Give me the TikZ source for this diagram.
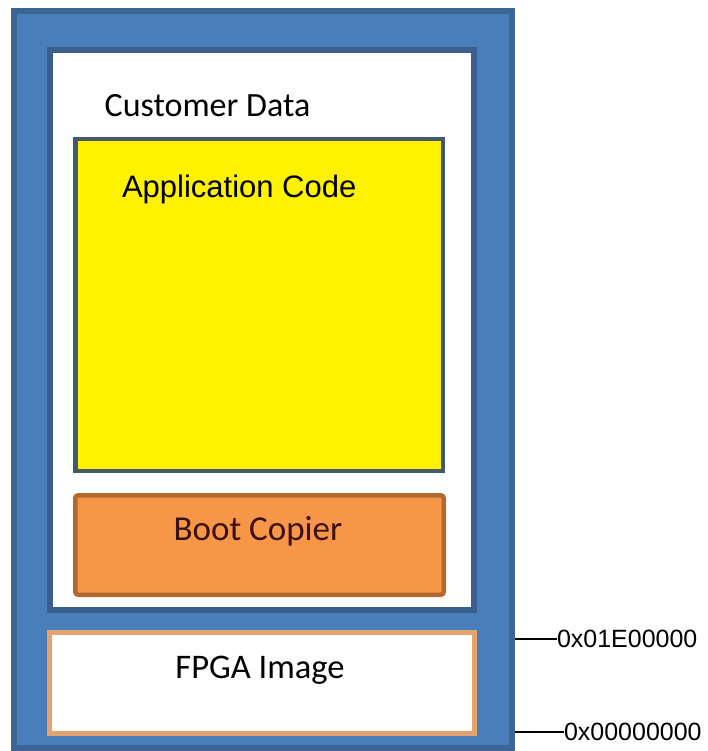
\documentclass[tikz,border=0pt]{standalone}
\usepackage{fontspec}
\newfontfamily\calibrifont{Carlito}
\newfontfamily\arialfont{Liberation Sans}

\definecolor{blueFill}{HTML}{4A7EBB}
\definecolor{blueEdge}{HTML}{3C6594}
\definecolor{custEdge}{HTML}{3A5F8E}
\definecolor{appFill}{HTML}{FFF200}
\definecolor{appEdge}{HTML}{45596B}
\definecolor{bootFill}{HTML}{F79646}
\definecolor{bootEdge}{HTML}{B2682E}
\definecolor{bootText}{HTML}{3B1010}
\definecolor{fpgaEdge}{HTML}{E2A36E}

\tikzset{
  region/.style={rectangle, inner sep=0pt, anchor=north west},
  caption/.style={inner sep=0pt, outer sep=0pt},
  addrtick/.style={draw=black, line width=1.5pt},
}

\begin{document}
\begin{tikzpicture}[x=1pt, y=-1pt]
  \useasboundingbox (0,0) rectangle (707,751);

  % flash device
  \node[region, fill=blueFill, draw=blueEdge, line width=6pt, outer sep=3pt,
        minimum width=498pt, minimum height=737pt] (flash) at (11,8) {};

  % customer data area
  \node[region, fill=white, draw=custEdge, line width=6pt, outer sep=3pt,
        minimum width=424pt, minimum height=560pt] (cust) at (47,47) {};

  % application code
  \node[region, fill=appFill, draw=appEdge, line width=4.5pt, outer sep=2.25pt,
        minimum width=367.5pt, minimum height=331.5pt] (app) at (73,137) {};

  % boot copier
  \node[region, fill=bootFill, draw=bootEdge, line width=4.5pt, outer sep=2.25pt,
        rounded corners=3pt,
        minimum width=368.5pt, minimum height=99.5pt] (boot) at (73,493) {};

  % FPGA image
  \node[region, fill=white, draw=fpgaEdge, line width=5pt, outer sep=2.5pt,
        minimum width=425pt, minimum height=101pt] (fpga) at (47,630) {};

  % captions
  \node[caption, anchor=base] (custLabel) at (207.5,117)
    {\calibrifont\fontsize{34}{40}\selectfont Customer Data};
  \node[caption, anchor=base west] (appLabel) at (122,197.5)
    {\arialfont\fontsize{31}{36}\selectfont Application Code};
  \node[caption, anchor=base, text=bootText] (bootLabel) at (258,540)
    {\calibrifont\fontsize{35}{40}\selectfont Boot Copier};
  \node[caption, anchor=base] (fpgaLabel) at (260,678.3)
    {\calibrifont\fontsize{34.5}{40}\selectfont FPGA Image};

  % address markers
  \node[caption, anchor=west] (addrHi) at (557,639)
    {\arialfont\fontsize{25}{30}\selectfont 0x01E00000};
  \node[caption, anchor=west] (addrLo) at (564,732)
    {\arialfont\fontsize{25}{30}\selectfont 0x00000000};

  \draw[addrtick] (flash.east |- addrHi.west) -- (addrHi.west);
  \draw[addrtick] (flash.east |- addrLo.west) -- (addrLo.west);
\end{tikzpicture}
\end{document}
